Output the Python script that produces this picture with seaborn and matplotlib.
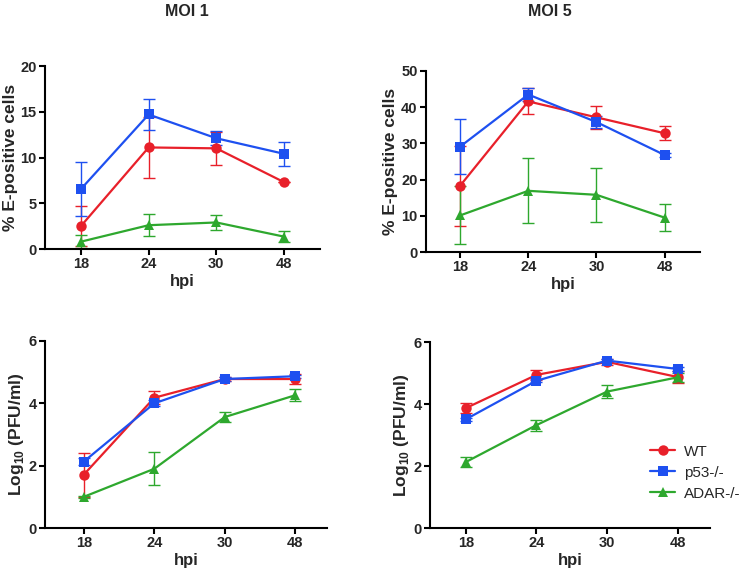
import numpy as np
import pandas as pd
import matplotlib
matplotlib.use("Agg")
import matplotlib.pyplot as plt
import seaborn as sns

hpi = ["18", "24", "30", "48"]
strains = ["WT", "p53-/-", "ADAR-/-"]

# MOI 1, % E-positive cells
moi1_pct_wt = [2.5, 11.1, 11.0, 7.3]
moi1_pct_wt_err = [2.2, 3.3, 1.8, 0.0]
moi1_pct_p53 = [6.55, 14.7, 12.1, 10.4]
moi1_pct_p53_err = [2.95, 1.65, 0.75, 1.3]
moi1_pct_adar = [0.8, 2.6, 2.9, 1.35]
moi1_pct_adar_err = [0.7, 1.2, 0.85, 0.6]

# MOI 5, % E-positive cells
moi5_pct_wt = [18.3, 41.6, 37.2, 32.8]
moi5_pct_wt_err = [11.1, 3.6, 3.2, 1.9]
moi5_pct_p53 = [29.1, 43.5, 35.9, 26.8]
moi5_pct_p53_err = [7.6, 1.9, 1.7, 0.6]
moi5_pct_adar = [10.1, 16.9, 15.8, 9.5]
moi5_pct_adar_err = [8.0, 9.0, 7.4, 3.8]

# MOI 1, Log10 PFU/ml
moi1_log_wt = [1.71, 4.18, 4.78, 4.78]
moi1_log_wt_err = [0.7, 0.2, 0.05, 0.15]
moi1_log_p53 = [2.13, 4.0, 4.78, 4.87]
moi1_log_p53_err = [0.12, 0.1, 0.05, 0.05]
moi1_log_adar = [1.0, 1.9, 3.56, 4.26]
moi1_log_adar_err = [0.03, 0.53, 0.16, 0.19]

# MOI 5, Log10 PFU/ml
moi5_log_wt = [3.87, 4.94, 5.36, 4.87]
moi5_log_wt_err = [0.16, 0.15, 0.1, 0.19]
moi5_log_p53 = [3.51, 4.75, 5.40, 5.13]
moi5_log_p53_err = [0.05, 0.05, 0.05, 0.05]
moi5_log_adar = [2.13, 3.32, 4.40, 4.86]
moi5_log_adar_err = [0.15, 0.18, 0.22, 0.15]

sns.set_style("ticks")
plt.rcParams["font.family"] = ["Liberation Sans", "DejaVu Sans"]
plt.rcParams["mathtext.fontset"] = "custom"
plt.rcParams["mathtext.rm"] = "Liberation Sans:bold"
plt.rcParams["mathtext.bf"] = "Liberation Sans:bold"

colors = {"WT": "#E8202A", "p53-/-": "#1E50F0", "ADAR-/-": "#2EA82E"}
markers = {"WT": "o", "p53-/-": "s", "ADAR-/-": "^"}

fig = plt.figure(figsize=(7.39, 5.76), dpi=100)
W, H = 739, 576

def axes_px(l, t, r, b):
    return fig.add_axes([l / W, 1 - b / H, (r - l) / W, (b - t) / H])

panels = [
    dict(box=(45, 66, 320, 249), xlim=(-0.53, 3.53), ylim=(0, 20), yticks=[0, 5, 10, 15, 20],
         ylabel="% E-positive cells", title="MOI 1", title_x=187,
         data=[(moi1_pct_wt, moi1_pct_wt_err), (moi1_pct_p53, moi1_pct_p53_err), (moi1_pct_adar, moi1_pct_adar_err)]),
    dict(box=(426, 71, 700, 252), xlim=(-0.5, 3.52), ylim=(0, 50), yticks=[0, 10, 20, 30, 40, 50],
         ylabel="% E-positive cells", title="MOI 5", title_x=550,
         data=[(moi5_pct_wt, moi5_pct_wt_err), (moi5_pct_p53, moi5_pct_p53_err), (moi5_pct_adar, moi5_pct_adar_err)]),
    dict(box=(45, 341, 327, 528), xlim=(-0.55, 3.45), ylim=(0, 6), yticks=[0, 2, 4, 6],
         ylabel=r"Log$_{\mathbf{10}}$ (PFU/ml)", title=None, title_x=None,
         data=[(moi1_log_wt, moi1_log_wt_err), (moi1_log_p53, moi1_log_p53_err), (moi1_log_adar, moi1_log_adar_err)]),
    dict(box=(430, 342, 710, 528), xlim=(-0.51, 3.46), ylim=(0, 6), yticks=[0, 2, 4, 6],
         ylabel=r"Log$_{\mathbf{10}}$ (PFU/ml)", title=None, title_x=None,
         data=[(moi5_log_wt, moi5_log_wt_err), (moi5_log_p53, moi5_log_p53_err), (moi5_log_adar, moi5_log_adar_err)]),
]

xpos = np.arange(len(hpi))
for i, p in enumerate(panels):
    ax = axes_px(*p["box"])
    rows = []
    for s, (vals, errs) in zip(strains, p["data"]):
        for x, v, e in zip(xpos, vals, errs):
            rows.append(dict(x=x, y=v, err=e, strain=s))
    df = pd.DataFrame(rows)
    for s in strains:
        d = df[df.strain == s]
        ax.errorbar(d["x"], d["y"], yerr=d["err"], fmt="none", ecolor=colors[s],
                    elinewidth=1.0, capsize=4.5, capthick=1.0, zorder=2)
    sns.lineplot(data=df, x="x", y="y", hue="strain", style="strain", hue_order=strains,
                 style_order=strains, palette=colors, markers=markers, dashes=False,
                 markersize=7.5, markeredgewidth=0, linewidth=1.6, ax=ax, legend=(i == 3), zorder=3)
    ax.set_xlim(*p["xlim"])
    ax.set_ylim(*p["ylim"])
    ax.set_yticks(p["yticks"])
    ax.set_xticks(xpos)
    ax.set_xticklabels(hpi)
    ax.set_xlabel("hpi", fontsize=12, fontweight="bold", labelpad=2)
    ax.set_ylabel(p["ylabel"], fontsize=12.5, fontweight="bold", labelpad=2)
    for side in ["top", "right"]:
        ax.spines[side].set_visible(False)
    for side in ["left", "bottom"]:
        ax.spines[side].set_linewidth(1.5)
        ax.spines[side].set_color("black")
    ax.tick_params(axis="both", width=1.5, length=4, labelsize=10.5, color="black", pad=2)
    for lab in ax.get_xticklabels() + ax.get_yticklabels():
        lab.set_fontweight("bold")
    if p["title"]:
        fig.text(p["title_x"] / W, 1 - 11 / H, p["title"], ha="center", va="center",
                 fontsize=11.5, fontweight="bold")
    if i == 3:
        ax.legend(loc="upper left", bbox_to_anchor=(0.765, 0.48), frameon=False,
                  fontsize=11, handlelength=1.6, handletextpad=0.6, labelspacing=0.45,
                  borderaxespad=0)

fig.savefig("out.png", dpi=100)
